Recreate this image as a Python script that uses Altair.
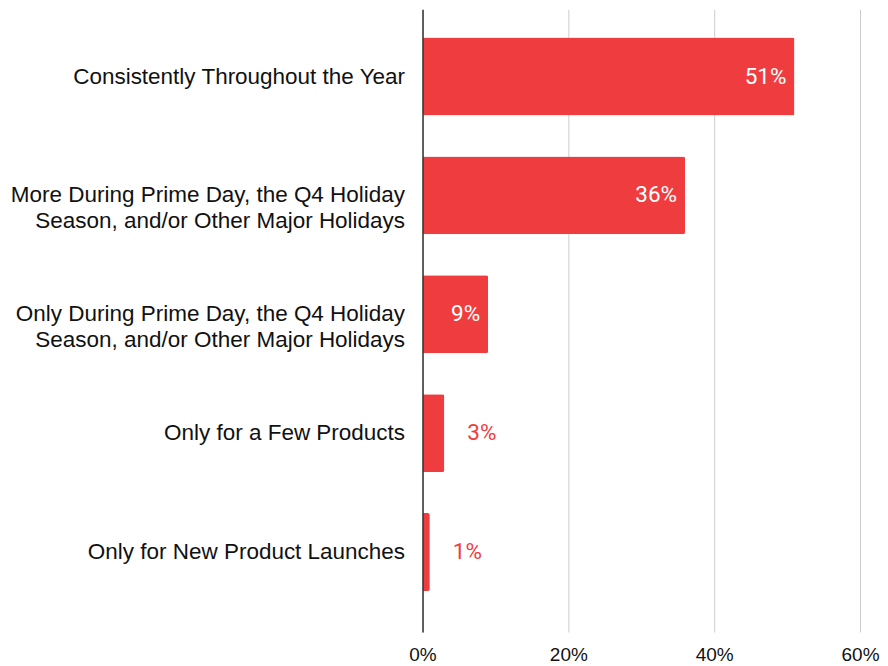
import altair as alt
import pandas as pd

categories = [
    "Consistently Throughout the Year",
    "More During Prime Day, the Q4 Holiday|Season, and/or Other Major Holidays",
    "Only During Prime Day, the Q4 Holiday|Season, and/or Other Major Holidays",
    "Only for a Few Products",
    "Only for New Product Launches",
]
values = [51, 36, 9, 3, 1]
x_ticks = [0, 20, 40, 60]

RED = "#EF3D3F"
df = pd.DataFrame({"category": categories, "value": values})

base = alt.Chart(df).transform_calculate(
    label="datum.value + '%'"
).encode(
    y=alt.Y(
        "category:N",
        sort=categories,
        scale=alt.Scale(paddingInner=0.345, paddingOuter=0.292, align=0.407),
        axis=alt.Axis(
            title=None,
            labelExpr="split(datum.label, '|')",
            labelFont="Arial, Liberation Sans, sans-serif",
            labelFontSize=22.5,
            labelColor="#111111",
            labelPadding=18,
            labelLimit=600,
            labelLineHeight=25.7,
            ticks=False,
            domain=True,
            domainColor="#333333",
            domainWidth=1.5,
            zindex=1,
        ),
    ),
    x=alt.X(
        "value:Q",
        scale=alt.Scale(domain=[0, 60], nice=False),
        axis=alt.Axis(
            title=None,
            values=x_ticks,
            labelExpr="datum.value + '%'",
            labelFont="Arial, Liberation Sans, sans-serif",
            labelFontSize=19,
            labelColor="#111111",
            labelPadding=13,
            labelFlush=False,
            domain=False,
            ticks=False,
            grid=True,
            gridColor="#cccccc",
            gridWidth=1,
        ),
    ),
)

bars = base.mark_bar(color=RED, cornerRadiusEnd=2)

inside = base.transform_filter("datum.value >= 5").mark_text(
    align="right", baseline="middle", dx=-8, color="white", font="Roboto", fontSize=22.5
).encode(text="label:N")

outside = base.transform_filter("datum.value < 5").mark_text(
    align="left", baseline="middle", dx=23, color=RED, font="Roboto", fontSize=22.5
).encode(text="label:N")

chart = alt.layer(bars, inside, outside).properties(
    width=438,
    height=623.4,
    padding={"left": 2, "top": 1, "right": 0, "bottom": 0},
).configure_view(stroke=None)

chart.save("out.html", embed_options={"renderer": "svg", "actions": False})
